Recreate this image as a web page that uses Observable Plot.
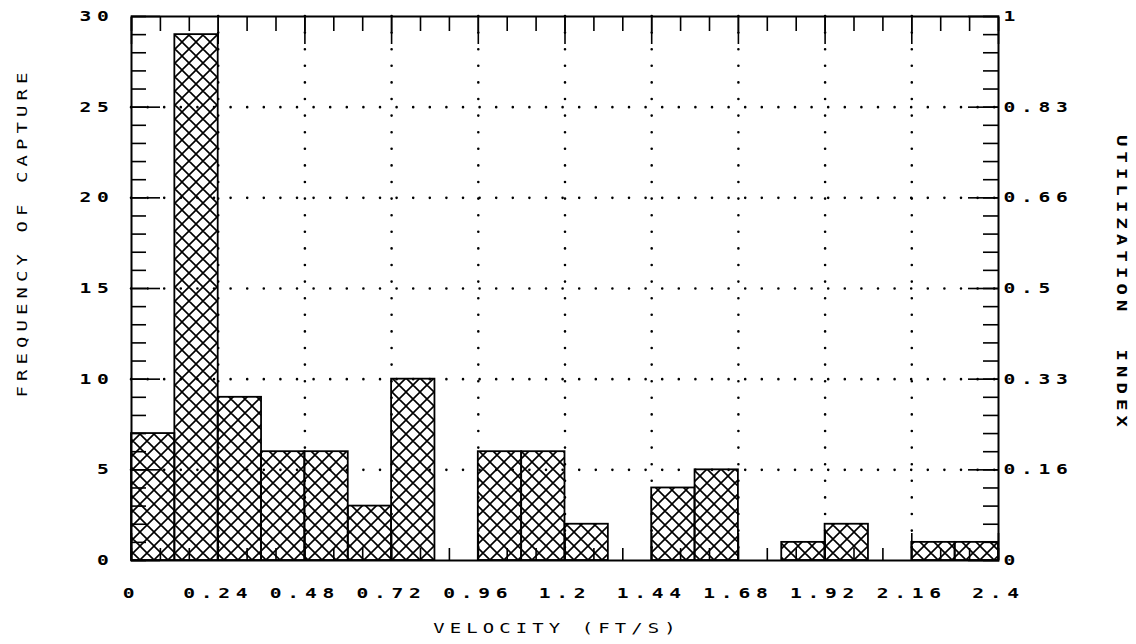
<!DOCTYPE html>
<html>
<head>
<meta charset="utf-8">
<script src="https://cdn.jsdelivr.net/npm/d3@7"></script>
<script src="https://cdn.jsdelivr.net/npm/@observablehq/plot@0.6"></script>
<style>
  body { margin: 0; background: #fff; }
  #chart svg { display: block; }
</style>
</head>
<body>
<div id="chart"></div>
<script>
// ---- data ----
const binStart = [0, 0.12, 0.24, 0.36, 0.48, 0.60, 0.72, 0.84, 0.96, 1.08,
                  1.20, 1.32, 1.44, 1.56, 1.68, 1.80, 1.92, 2.04, 2.16, 2.28];
const frequency = [7, 29, 9, 6, 6, 3, 10, 0, 6, 6,
                   2, 0, 4, 5, 0, 1, 2, 0, 1, 1];
const binWidth = 0.12;

const xTickValues = [0, 0.24, 0.48, 0.72, 0.96, 1.2, 1.44, 1.68, 1.92, 2.16, 2.4];
const xTickLabels = ["0", "0.24", "0.48", "0.72", "0.96", "1.2", "1.44", "1.68", "1.92", "2.16", "2.4"];
const yTickValues = [0, 5, 10, 15, 20, 25, 30];
const yTickLabels = ["0", "5", "10", "15", "20", "25", "30"];
const rightTickLabels = ["0", "0.16", "0.33", "0.5", "0.66", "0.83", "1"];
const xMinorTicks = d3.range(0, 2.401, 0.08);
const yMinorTicks = d3.range(0, 31, 1);

const xTitle = "VELOCITY (FT/S)";
const yTitle = "FREQUENCY OF CAPTURE";
const y2Title = "UTILIZATION  INDEX";

const bars = binStart.map((x, i) => ({x1: x, x2: x + binWidth, y: frequency[i]})).filter(d => d.y > 0);

const tickStyle = {stroke: "#000", strokeWidth: 1.6, tickFormat: () => "", label: null};
const labelFont = {fontFamily: "DejaVu Sans Mono", fontSize: 14, fontWeight: "bold", fill: "#000"};
const titleFont = {fontFamily: "DejaVu Sans Mono", fontSize: 14, fill: "#000"};

const chart = Plot.plot({
  width: 1136,
  height: 644,
  marginLeft: 131,
  marginRight: 138,
  marginTop: 16,
  marginBottom: 84,
  x: {domain: [0, 2.4]},
  y: {domain: [0, 30]},
  marks: [
    // dotted grid
    Plot.ruleX(xTickValues.slice(1, -1), {stroke: "#000", strokeWidth: 2.6, strokeDasharray: "0,16.6", strokeLinecap: "round"}),
    Plot.ruleY(yTickValues.slice(1, -1), {stroke: "#000", strokeWidth: 2.6, strokeDasharray: "0,16.6", strokeLinecap: "round"}),
    // bars
    Plot.rectY(bars, {x1: "x1", x2: "x2", y: "y", fill: "url(#xhatch)", stroke: "#000", strokeWidth: 1.8}),
    Plot.frame({stroke: "#000", strokeWidth: 2}),
    // inward ticks
    Plot.axisX(xMinorTicks, {anchor: "bottom", tickSize: 12, dy: -12, ...tickStyle}),
    Plot.axisX(xTickValues, {anchor: "bottom", tickSize: 27, dy: -27, ...tickStyle}),
    Plot.axisX(xMinorTicks, {anchor: "top", tickSize: 14, dy: 14, ...tickStyle}),
    Plot.axisX(xTickValues, {anchor: "top", tickSize: 27, dy: 27, ...tickStyle}),
    Plot.axisY(yMinorTicks, {anchor: "left", tickSize: 15, dx: 15, ...tickStyle}),
    Plot.axisY(yTickValues, {anchor: "left", tickSize: 29, dx: 29, ...tickStyle}),
    Plot.axisY(yMinorTicks, {anchor: "right", tickSize: 16, dx: -16, ...tickStyle}),
    Plot.axisY(yTickValues, {anchor: "right", tickSize: 31, dx: -31, ...tickStyle}),
    // tick labels
    Plot.text(xTickValues, {x: d => d, text: (d, i) => xTickLabels[i], frameAnchor: "bottom", dy: 37, dx: 0, textAnchor: "middle", ...labelFont}),
    Plot.text(yTickValues, {y: d => d, text: (d, i) => yTickLabels[i], frameAnchor: "left", dx: -17, textAnchor: "end", ...labelFont}),
    Plot.text(yTickValues, {y: d => d, text: (d, i) => rightTickLabels[i], frameAnchor: "right", dx: 5, textAnchor: "start", ...labelFont}),
    // titles
    Plot.text([xTitle], {text: d => d, frameAnchor: "bottom", dy: 72, dx: -8, textAnchor: "middle", ...titleFont}),
    Plot.text([yTitle], {text: d => d, frameAnchor: "left", dx: -109, dy: -56, rotate: -90, textAnchor: "middle", ...titleFont}),
    Plot.text([y2Title], {text: d => d, frameAnchor: "right", dx: 123, dy: -5, rotate: 90, textAnchor: "middle", ...titleFont, fontWeight: "bold"})
  ]
});

// crosshatch pattern
const defs = document.createElementNS("http://www.w3.org/2000/svg", "defs");
defs.innerHTML = `<pattern id="xhatch" patternUnits="userSpaceOnUse" width="14" height="14">
  <path d="M-1,-1L15,15M15,-1L-1,15M-8,6L8,22M6,-8L22,8M-8,8L8,-8M6,22L22,6" stroke="#000" stroke-width="1.6" fill="none"/>
</pattern>`;
chart.insertBefore(defs, chart.firstChild);

// wide plotter-style lettering: stretch horizontally along the text direction
const titles = new Set([xTitle, yTitle, y2Title]);
chart.querySelectorAll("text").forEach(t => {
  const isTitle = titles.has(t.textContent);
  const sx = isTitle ? 1.35 : 1.4;
  t.style.letterSpacing = isTitle ? "3.8px" : "4.1px";
  const tr = t.getAttribute("transform") || "";
  t.setAttribute("transform", tr + ` scale(${sx},1)`);
});

document.getElementById("chart").appendChild(chart);
</script>
</body>
</html>
